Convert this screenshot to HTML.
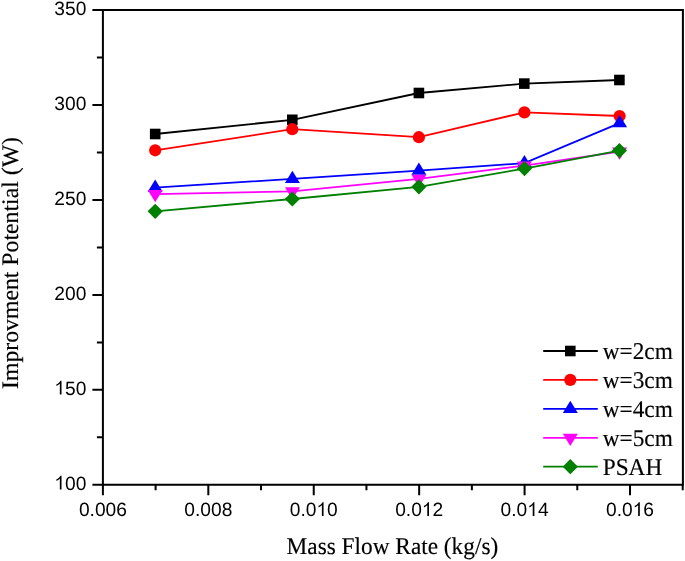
<!DOCTYPE html>
<html><head><meta charset="utf-8"><style>
html,body{margin:0;padding:0;background:#fff;}
body{width:685px;height:561px;overflow:hidden;}
svg{display:block;will-change:transform;text-rendering:geometricPrecision;}
.s{font-family:"Liberation Sans",sans-serif;font-size:19.2px;fill:#000;stroke:#000;stroke-width:0.0px;}
.r{font-family:"Liberation Serif",serif;font-size:23.3px;fill:#000;stroke:#000;stroke-width:0.15px;}
</style></head><body>
<svg width="685" height="561" viewBox="0 0 685 561">
<path d="M102.90,9.95 H682.9 V484.85 H102.90 Z" fill="none" stroke="#000" stroke-width="2" stroke-linejoin="miter"/>
<path d="M92.40,484.85 H102.90 M92.40,389.87 H102.90 M92.40,294.89 H102.90 M92.40,199.91 H102.90 M92.40,104.93 H102.90 M92.40,9.95 H102.90 M96.90,437.36 H102.90 M96.90,342.38 H102.90 M96.90,247.40 H102.90 M96.90,152.42 H102.90 M96.90,57.44 H102.90 M102.90,484.85 V495.15 M208.32,484.85 V495.15 M313.74,484.85 V495.15 M419.16,484.85 V495.15 M524.58,484.85 V495.15 M630.00,484.85 V495.15 M155.61,484.85 V490.35 M261.03,484.85 V490.35 M366.45,484.85 V490.35 M471.87,484.85 V490.35 M577.29,484.85 V490.35 M682.71,484.85 V490.35" fill="none" stroke="#000" stroke-width="2"/>
<text transform="translate(54.37,489.60) scale(1,1.0)" class="s">&#8199;00</text><path transform="translate(54.37,489.60) scale(0.009375,-0.009375)" d="M763,0 L583,0 L583,1147 Q518,1085 412,1023 Q306,961 222,930 L222,1104 Q373,1175 486,1276 Q599,1377 646,1472 L763,1472 Z" fill="#000"/>
<text transform="translate(54.37,394.62) scale(1,1.0)" class="s">&#8199;50</text><path transform="translate(54.37,394.62) scale(0.009375,-0.009375)" d="M763,0 L583,0 L583,1147 Q518,1085 412,1023 Q306,961 222,930 L222,1104 Q373,1175 486,1276 Q599,1377 646,1472 L763,1472 Z" fill="#000"/>
<text transform="translate(54.37,299.64) scale(1,1.0)" class="s">200</text>
<text transform="translate(54.37,204.66) scale(1,1.0)" class="s">250</text>
<text transform="translate(54.37,109.68) scale(1,1.0)" class="s">300</text>
<text transform="translate(54.37,14.70) scale(1,1.0)" class="s">350</text>
<text transform="translate(78.88,516.10) scale(1,1.0)" class="s">0.006</text>
<text transform="translate(184.30,516.10) scale(1,1.0)" class="s">0.008</text>
<text transform="translate(289.72,516.10) scale(1,1.0)" class="s">0.0&#8199;0</text><path transform="translate(316.41,516.10) scale(0.009375,-0.009375)" d="M763,0 L583,0 L583,1147 Q518,1085 412,1023 Q306,961 222,930 L222,1104 Q373,1175 486,1276 Q599,1377 646,1472 L763,1472 Z" fill="#000"/>
<text transform="translate(395.14,516.10) scale(1,1.0)" class="s">0.0&#8199;2</text><path transform="translate(421.83,516.10) scale(0.009375,-0.009375)" d="M763,0 L583,0 L583,1147 Q518,1085 412,1023 Q306,961 222,930 L222,1104 Q373,1175 486,1276 Q599,1377 646,1472 L763,1472 Z" fill="#000"/>
<text transform="translate(500.56,516.10) scale(1,1.0)" class="s">0.0&#8199;4</text><path transform="translate(527.25,516.10) scale(0.009375,-0.009375)" d="M763,0 L583,0 L583,1147 Q518,1085 412,1023 Q306,961 222,930 L222,1104 Q373,1175 486,1276 Q599,1377 646,1472 L763,1472 Z" fill="#000"/>
<text transform="translate(605.98,516.10) scale(1,1.0)" class="s">0.0&#8199;6</text><path transform="translate(632.67,516.10) scale(0.009375,-0.009375)" d="M763,0 L583,0 L583,1147 Q518,1085 412,1023 Q306,961 222,930 L222,1104 Q373,1175 486,1276 Q599,1377 646,1472 L763,1472 Z" fill="#000"/>
<path d="M155.20,134.00 L292.30,119.80 L418.90,93.00 L524.30,83.60 L619.40,80.00" fill="none" stroke="#000000" stroke-width="1.8"/>
<rect x="149.90" y="128.70" width="10.6" height="10.6" fill="#000000"/>
<rect x="287.00" y="114.50" width="10.6" height="10.6" fill="#000000"/>
<rect x="413.60" y="87.70" width="10.6" height="10.6" fill="#000000"/>
<rect x="519.00" y="78.30" width="10.6" height="10.6" fill="#000000"/>
<rect x="614.10" y="74.70" width="10.6" height="10.6" fill="#000000"/>
<path d="M155.20,150.30 L292.30,129.20 L418.90,137.20 L524.40,112.40 L619.60,116.00" fill="none" stroke="#ff0000" stroke-width="1.8"/>
<circle cx="155.20" cy="150.30" r="6.1" fill="#ff0000"/>
<circle cx="292.30" cy="129.20" r="6.1" fill="#ff0000"/>
<circle cx="418.90" cy="137.20" r="6.1" fill="#ff0000"/>
<circle cx="524.40" cy="112.40" r="6.1" fill="#ff0000"/>
<circle cx="619.60" cy="116.00" r="6.1" fill="#ff0000"/>
<path d="M155.20,187.60 L292.40,178.90 L418.90,170.60 L524.40,163.20 L619.60,123.20" fill="none" stroke="#0000ff" stroke-width="1.8"/>
<polygon points="155.20,179.50 162.70,191.65 147.70,191.65" fill="#0000ff"/>
<polygon points="292.40,170.80 299.90,182.95 284.90,182.95" fill="#0000ff"/>
<polygon points="418.90,162.50 426.40,174.65 411.40,174.65" fill="#0000ff"/>
<polygon points="524.40,155.10 531.90,167.25 516.90,167.25" fill="#0000ff"/>
<polygon points="619.60,115.10 627.10,127.25 612.10,127.25" fill="#0000ff"/>
<path d="M155.20,194.10 L292.40,191.30 L418.90,178.90 L524.40,165.60 L619.60,151.60" fill="none" stroke="#ff00ff" stroke-width="1.8"/>
<polygon points="155.20,202.20 162.70,190.05 147.70,190.05" fill="#ff00ff"/>
<polygon points="292.40,199.40 299.90,187.25 284.90,187.25" fill="#ff00ff"/>
<polygon points="418.90,187.00 426.40,174.85 411.40,174.85" fill="#ff00ff"/>
<polygon points="524.40,173.70 531.90,161.55 516.90,161.55" fill="#ff00ff"/>
<polygon points="619.60,159.70 627.10,147.55 612.10,147.55" fill="#ff00ff"/>
<path d="M155.20,211.30 L292.30,199.00 L418.90,186.80 L524.50,168.60 L619.40,150.60" fill="none" stroke="#008000" stroke-width="1.8"/>
<polygon points="155.20,203.70 162.80,211.30 155.20,218.90 147.60,211.30" fill="#008000"/>
<polygon points="292.30,191.40 299.90,199.00 292.30,206.60 284.70,199.00" fill="#008000"/>
<polygon points="418.90,179.20 426.50,186.80 418.90,194.40 411.30,186.80" fill="#008000"/>
<polygon points="524.50,161.00 532.10,168.60 524.50,176.20 516.90,168.60" fill="#008000"/>
<polygon points="619.40,143.00 627.00,150.60 619.40,158.20 611.80,150.60" fill="#008000"/>
<path d="M543.2,351.00 H597.8" stroke="#000000" stroke-width="1.8"/>
<rect x="565.00" y="345.70" width="10.6" height="10.6" fill="#000000"/>
<text transform="translate(602.70,358.90) scale(1,1.03)" class="r" text-anchor="start">w=2cm</text>
<path d="M543.2,379.93 H597.8" stroke="#ff0000" stroke-width="1.8"/>
<circle cx="570.30" cy="379.93" r="6.1" fill="#ff0000"/>
<text transform="translate(602.70,387.83) scale(1,1.03)" class="r" text-anchor="start">w=3cm</text>
<path d="M543.2,408.86 H597.8" stroke="#0000ff" stroke-width="1.8"/>
<polygon points="570.30,400.76 577.80,412.91 562.80,412.91" fill="#0000ff"/>
<text transform="translate(602.70,416.76) scale(1,1.03)" class="r" text-anchor="start">w=4cm</text>
<path d="M543.2,437.79 H597.8" stroke="#ff00ff" stroke-width="1.8"/>
<polygon points="570.30,445.89 577.80,433.74 562.80,433.74" fill="#ff00ff"/>
<text transform="translate(602.70,445.69) scale(1,1.03)" class="r" text-anchor="start">w=5cm</text>
<path d="M543.2,466.72 H597.8" stroke="#008000" stroke-width="1.8"/>
<polygon points="570.30,459.12 577.90,466.72 570.30,474.32 562.70,466.72" fill="#008000"/>
<text transform="translate(602.70,474.62) scale(1,1.03)" class="r" text-anchor="start">PSAH</text>
<text transform="translate(392.40,553.80) scale(1,1.03)" class="r" text-anchor="middle">Mass Flow Rate (kg/s)</text>
<text transform="translate(17.9,263.0) rotate(-90)" class="r" style="font-size:23.75px" text-anchor="middle">Improvment Potential (W)</text>
</svg>
</body></html>
